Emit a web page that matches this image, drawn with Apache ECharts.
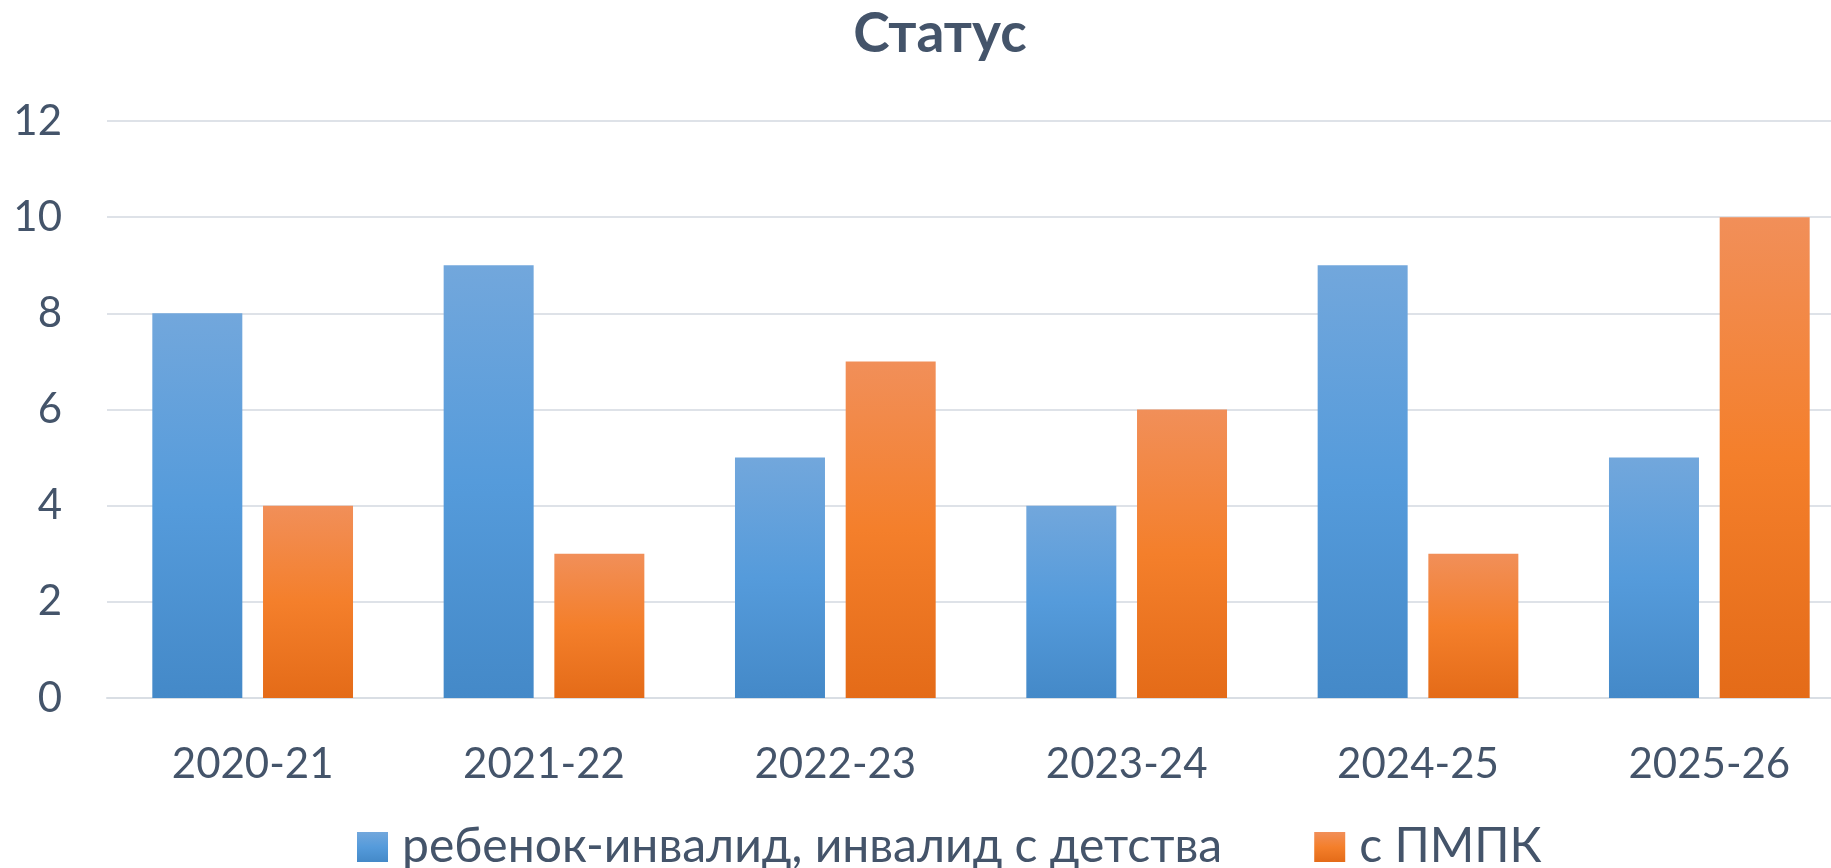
<!DOCTYPE html>
<html>
<head>
<meta charset="utf-8">
<script src="https://cdn.jsdelivr.net/npm/echarts@6/dist/echarts.min.js"></script>
<style>
html,body{margin:0;padding:0;background:#fff;overflow:hidden;}
#chart{width:1831px;height:868px;}
</style>
</head>
<body>
<div id="chart"></div>
<script>
const title = 'Статус';
const categories = ['2020-21', '2021-22', '2022-23', '2023-24', '2024-25', '2025-26'];
const seriesNames = ['ребенок-инвалид, инвалид с детства', 'с ПМПК'];
const invalidValues = [8, 9, 5, 4, 9, 5];
const pmpkValues = [4, 3, 7, 6, 3, 10];
const yTicks = [0, 2, 4, 6, 8, 10, 12];

const textColor = '#44546A';
const font = 'Lato, "Open Sans", sans-serif';

function grad(top, mid, bottom) {
  return new echarts.graphic.LinearGradient(0, 0, 0, 1, [
    { offset: 0, color: top },
    { offset: 0.5, color: mid },
    { offset: 1, color: bottom }
  ]);
}
const blueGrad = grad('#72A7DC', '#559BDB', '#4489C8');
const orangeGrad = grad('#F18F59', '#F47F2B', '#E46B18');

const chart = echarts.init(document.getElementById('chart'), null, { renderer: 'canvas' });
chart.setOption({
  backgroundColor: '#ffffff',
  animation: false,
  title: {
    text: title,
    left: 935,
    top: 2,
    textAlign: 'center',
    textStyle: { color: textColor, fontFamily: font, fontWeight: 'bold', fontSize: 55 }
  },
  legend: {
    data: [
      { name: seriesNames[0], itemStyle: { color: blueGrad } },
      { name: seriesNames[1], itemStyle: { color: orangeGrad } }
    ],
    left: 352,
    top: 818,
    icon: 'rect',
    itemWidth: 31,
    itemHeight: 30,
    itemGap: 92,
    textStyle: { color: textColor, fontFamily: font, fontSize: 48, padding: [0, 0, 0, 9] }
  },
  grid: { left: 107, width: 1748, top: 121, bottom: 170, containLabel: false, outerBoundsMode: 'none' },
  xAxis: {
    type: 'category',
    data: categories,
    axisLine: { show: true, lineStyle: { color: '#D9DEE4', width: 2 } },
    axisTick: { show: false },
    axisLabel: { color: textColor, fontFamily: font, fontSize: 42, margin: 45 }
  },
  yAxis: {
    type: 'value',
    min: yTicks[0],
    max: yTicks[yTicks.length - 1],
    interval: 2,
    axisLine: { show: false },
    axisTick: { show: false },
    splitLine: { lineStyle: { color: '#DEE2E8', width: 2 } },
    axisLabel: { color: textColor, fontFamily: font, fontSize: 42, margin: 45 }
  },
  series: [
    {
      name: seriesNames[0],
      type: 'bar',
      data: invalidValues,
      barWidth: 90,
      barGap: '23%',
      itemStyle: { color: blueGrad }
    },
    {
      name: seriesNames[1],
      type: 'bar',
      data: pmpkValues,
      barWidth: 90,
      itemStyle: { color: orangeGrad }
    }
  ]
});
</script>
</body>
</html>
